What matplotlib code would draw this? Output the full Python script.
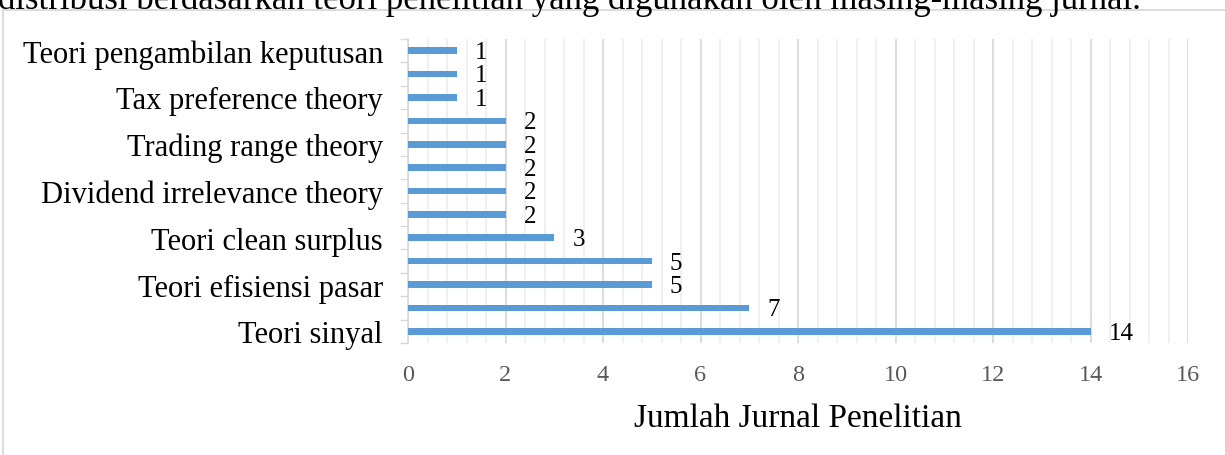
import numpy as np
import matplotlib.pyplot as plt
from matplotlib.patches import Rectangle
from matplotlib.ticker import MultipleLocator

# data, listed from bottom bar to top bar
theories = [
    "Teori sinyal",
    "",
    "Teori efisiensi pasar",
    "",
    "Teori clean surplus",
    "",
    "Dividend irrelevance theory",
    "",
    "Trading range theory",
    "",
    "Tax preference theory",
    "",
    "Teori pengambilan keputusan",
]
jumlah = [14, 7, 5, 5, 3, 2, 2, 2, 2, 2, 1, 1, 1]
x_ticks = [0, 2, 4, 6, 8, 10, 12, 14, 16]

BAR_COLOR = "#5b9bd5"
SERIF = ["Liberation Serif", "DejaVu Serif"]

fig = plt.figure(figsize=(12.25, 4.56), dpi=100)
ax = fig.add_axes([408 / 1225, 1 - 344 / 456, 780 / 1225, 304 / 456])

y_pos = np.arange(len(theories))
ax.barh(y_pos, jumlah, height=0.28, color=BAR_COLOR, zorder=3)

for y, value in zip(y_pos, jumlah):
    ax.text(value + 0.37, y - 0.06, str(value), va="center", ha="left",
            fontsize=18, family=SERIF, color="black")

ax.set_xlim(0, 16)
ax.set_ylim(-0.5, len(theories) - 0.5)

ax.set_xticks(x_ticks)
ax.xaxis.set_minor_locator(MultipleLocator(0.4))
ax.grid(True, axis="x", which="major", color="#d9d9d9", linewidth=1.3, zorder=0)
ax.grid(True, axis="x", which="minor", color="#efefef", linewidth=1.3, zorder=0)
ax.tick_params(axis="x", which="both", length=0, pad=15, labelsize=17.5,
               labelcolor="#595959")

ax.set_yticks(y_pos)
ax.set_yticklabels(theories)
ax.set_yticks(np.arange(-0.5, len(theories), 1), minor=True)
ax.tick_params(axis="y", which="major", length=0, pad=18, labelsize=22)
ax.tick_params(axis="y", which="minor", length=6, width=1, color="#d9d9d9")

for label in ax.get_xticklabels() + ax.get_yticklabels():
    label.set_family(SERIF)

for side in ["top", "right", "bottom"]:
    ax.spines[side].set_visible(False)
ax.spines["left"].set_color("#d9d9d9")
ax.spines["left"].set_linewidth(1.2)

ax.set_xlabel("Jumlah Jurnal Penelitian", fontsize=24, family=SERIF, labelpad=13)

# outer chart border, cut by the image edge
fig.patches.append(Rectangle((3 / 1225, -0.2), 1.1, 1.2 - 11 / 456,
                             transform=fig.transFigure, fill=False,
                             edgecolor="#d9d9d9", linewidth=1.3))

# caption line of the document above, cut at the top
fig.text(-0.002, 1 - 9 / 456,
         "distribusi berdasarkan teori penelitian yang digunakan oleh masing-masing jurnal.",
         fontsize=25, family=SERIF, ha="left", va="baseline")

fig.savefig("out.png", dpi=100)
